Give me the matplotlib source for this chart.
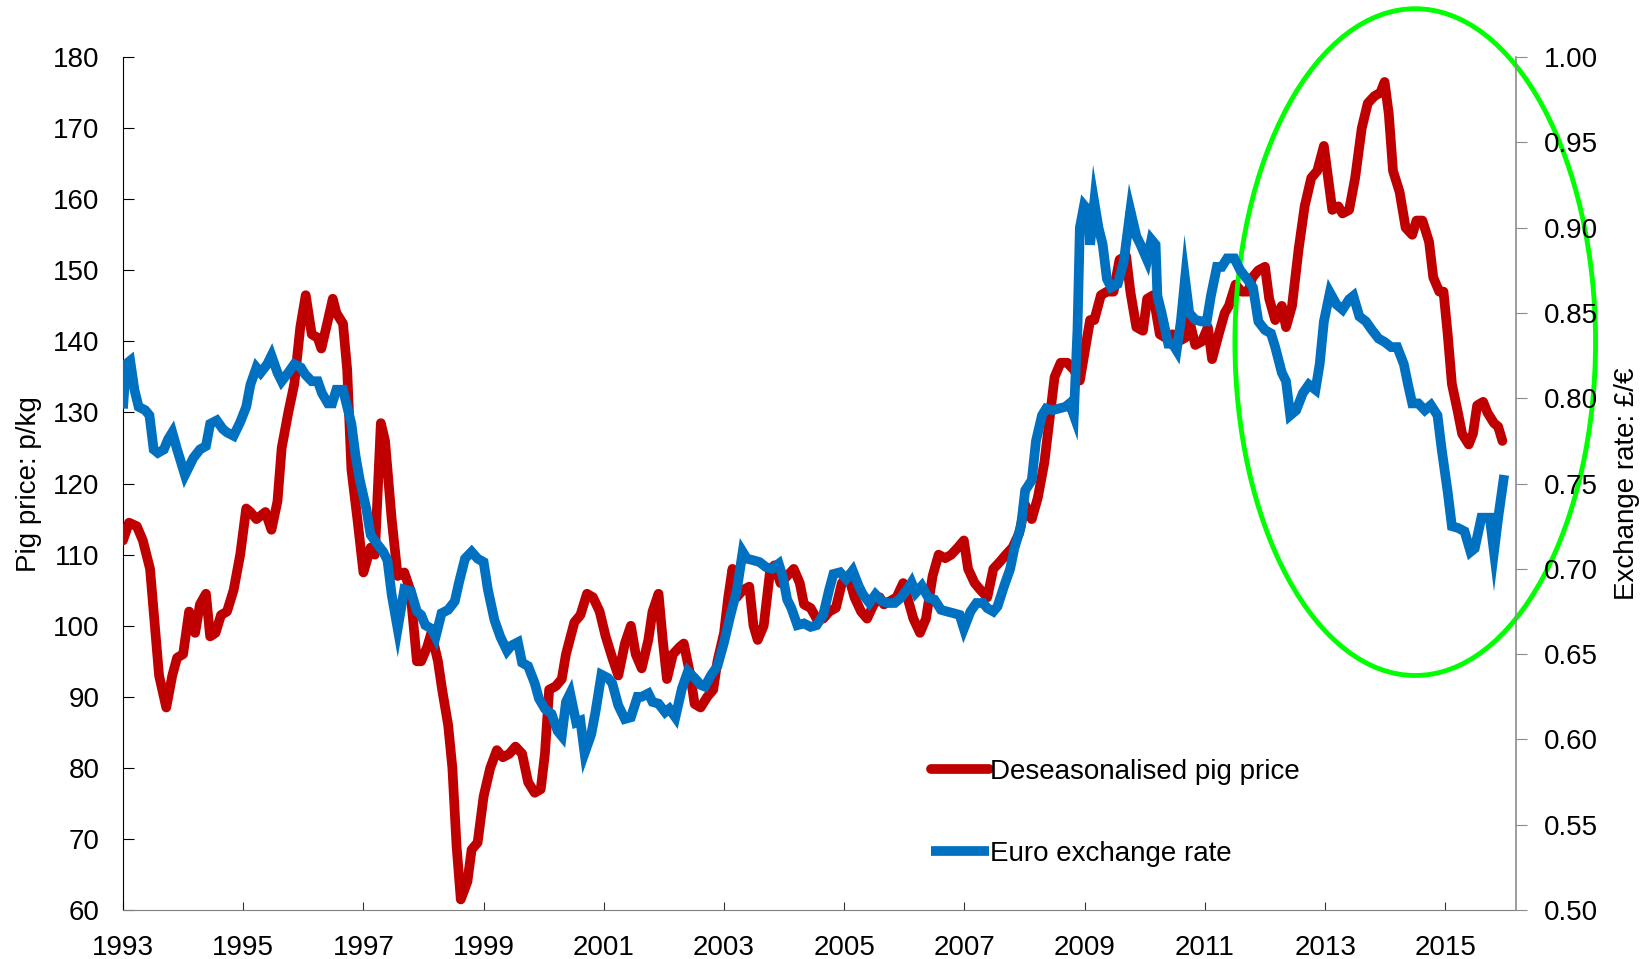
import matplotlib.pyplot as plt
from matplotlib.patches import Ellipse
from matplotlib.ticker import FormatStrFormatter

plt.rcParams['font.family'] = ['Liberation Sans', 'DejaVu Sans']

# Deseasonalised pig price (p/kg)
pig_years = [1993.0, 1993.1, 1993.23, 1993.33, 1993.45, 1993.53, 1993.6, 1993.72, 1993.82, 1993.9,
             1994.0, 1994.1, 1994.2, 1994.28, 1994.38, 1994.45, 1994.54, 1994.63, 1994.73, 1994.84,
             1994.95, 1995.05, 1995.12, 1995.22, 1995.37, 1995.47, 1995.57, 1995.64, 1995.75, 1995.85,
             1995.95, 1996.04, 1996.14, 1996.24, 1996.3, 1996.41, 1996.49, 1996.55, 1996.66, 1996.73,
             1996.8, 1996.9, 1997.0, 1997.12, 1997.19, 1997.29, 1997.36, 1997.47, 1997.57, 1997.68,
             1997.78, 1997.89, 1997.96, 1998.06, 1998.13, 1998.24, 1998.31, 1998.41, 1998.48, 1998.55,
             1998.62, 1998.73, 1998.8, 1998.9, 1999.0, 1999.11, 1999.22, 1999.32, 1999.43, 1999.53,
             1999.64, 1999.74, 1999.85, 1999.95, 2000.02, 2000.09, 2000.2, 2000.3, 2000.37, 2000.51,
             2000.61, 2000.72, 2000.82, 2000.93, 2001.03, 2001.14, 2001.24, 2001.35, 2001.45, 2001.53,
             2001.63, 2001.74, 2001.81, 2001.91, 2001.98, 2002.05, 2002.15, 2002.26, 2002.33, 2002.44,
             2002.51, 2002.61, 2002.72, 2002.82, 2002.89, 2003.0, 2003.07, 2003.14, 2003.21, 2003.31,
             2003.42, 2003.49, 2003.56, 2003.66, 2003.77, 2003.84, 2003.94, 2004.05, 2004.16, 2004.26,
             2004.33, 2004.44, 2004.54, 2004.65, 2004.75, 2004.86, 2004.96, 2005.07, 2005.17, 2005.28,
             2005.38, 2005.49, 2005.59, 2005.66, 2005.77, 2005.87, 2005.98, 2006.05, 2006.15, 2006.26,
             2006.36, 2006.47, 2006.57, 2006.68, 2006.78, 2006.89, 2006.99, 2007.06, 2007.17, 2007.27,
             2007.38, 2007.48, 2007.59, 2007.69, 2007.8, 2007.91, 2008.01, 2008.12, 2008.22, 2008.33,
             2008.43, 2008.5, 2008.6, 2008.71, 2008.82, 2008.92, 2008.99, 2009.09, 2009.16, 2009.27,
             2009.37, 2009.48, 2009.58, 2009.69, 2009.76, 2009.86, 2009.97, 2010.04, 2010.14, 2010.25,
             2010.35, 2010.46, 2010.56, 2010.67, 2010.74, 2010.84, 2010.95, 2011.05, 2011.12, 2011.23,
             2011.33, 2011.4, 2011.51, 2011.61, 2011.72, 2011.79, 2011.89, 2012.0, 2012.07, 2012.17,
             2012.28, 2012.35, 2012.45, 2012.56, 2012.66, 2012.77, 2012.87, 2012.98, 2013.05, 2013.12,
             2013.22, 2013.29, 2013.4, 2013.5, 2013.61, 2013.71, 2013.82, 2013.92, 2013.99, 2014.06,
             2014.13, 2014.24, 2014.34, 2014.45, 2014.52, 2014.62, 2014.73, 2014.8, 2014.9, 2014.97,
             2015.04, 2015.11, 2015.21, 2015.28, 2015.39, 2015.46, 2015.53, 2015.63, 2015.7, 2015.81,
             2015.88, 2015.95]
pig_price = [112, 114.5, 114, 112, 108, 100, 93, 88.5, 93, 95.5,
             96, 102, 99, 103, 104.5, 98.5, 99, 101.5, 102, 105,
             110, 116.5, 116, 115, 116, 113.5, 117.5, 125, 130, 134,
             142, 146.5, 141, 140.5, 139, 143, 146, 144, 142.5, 136,
             122, 115, 107.5, 111, 110, 128.5, 126, 115, 107, 107.5,
             105, 95, 95, 97, 99, 95, 91, 86, 80, 69,
             61.5, 64, 68.5, 69.5, 76, 80, 82.5, 81.5, 82, 83,
             82, 78, 76.5, 77, 82, 91, 91.5, 92.5, 96, 100.5,
             101.5, 104.5, 104, 102, 98.5, 95.5, 93, 97.5, 100, 96,
             94, 98, 102, 104.5, 98, 92.5, 96, 97, 97.5, 93,
             89, 88.5, 90, 91, 95, 99, 104, 108, 104, 105,
             105.5, 100, 98, 100, 108, 108.5, 106, 107, 108, 106,
             103, 102.5, 101, 101, 102, 102.5, 106, 107, 104, 102,
             101, 103, 104, 103, 103.5, 104, 106, 104, 101, 99,
             101, 107, 110, 109.5, 110, 111, 112, 108, 106, 105,
             104, 108, 109, 110, 111, 113, 117, 115, 118, 123,
             130, 135, 137, 137, 136, 134.5, 138, 143, 143, 146.5,
             147, 147, 151.5, 152, 147, 142, 141.5, 146, 146.5, 141,
             140.5, 141, 140, 140.5, 143, 139.5, 140, 142, 137.5, 141,
             144, 145, 148, 147, 147, 149, 150, 150.5, 146, 143,
             145, 142, 145, 153, 159, 163, 164, 167.5, 163, 158.5,
             159, 158, 158.5, 163, 170, 173.5, 174.5, 175, 176.5, 172,
             164, 161, 156, 155, 157, 157, 154, 149, 147, 147,
             141, 134, 130, 127, 125.5, 127, 131, 131.5, 130, 128.5,
             128, 126]

# Euro exchange rate (GBP per EUR)
fx_years = [1993.0, 1993.05, 1993.12, 1993.19, 1993.26, 1993.37, 1993.44, 1993.51, 1993.58, 1993.68,
            1993.75, 1993.82, 1993.9, 1993.96, 1994.03, 1994.1, 1994.17, 1994.28, 1994.38, 1994.45,
            1994.56, 1994.66, 1994.73, 1994.84, 1994.95, 1995.05, 1995.12, 1995.22, 1995.29, 1995.4,
            1995.47, 1995.57, 1995.64, 1995.75, 1995.85, 1995.96, 1996.03, 1996.14, 1996.24, 1996.31,
            1996.41, 1996.48, 1996.55, 1996.66, 1996.73, 1996.8, 1996.87, 1996.94, 1997.05, 1997.12,
            1997.22, 1997.33, 1997.4, 1997.47, 1997.57, 1997.68, 1997.79, 1997.89, 1997.96, 1998.03,
            1998.13, 1998.2, 1998.3, 1998.41, 1998.52, 1998.59, 1998.69, 1998.8, 1998.9, 1999.0,
            1999.07, 1999.18, 1999.28, 1999.39, 1999.46, 1999.57, 1999.64, 1999.74, 1999.85, 1999.92,
            2000.02, 2000.13, 2000.23, 2000.3, 2000.37, 2000.44, 2000.54, 2000.61, 2000.68, 2000.79,
            2000.86, 2000.96, 2001.07, 2001.14, 2001.24, 2001.35, 2001.45, 2001.56, 2001.63, 2001.74,
            2001.81, 2001.91, 2002.02, 2002.09, 2002.19, 2002.3, 2002.4, 2002.51, 2002.61, 2002.68,
            2002.79, 2002.89, 2003.0, 2003.1, 2003.21, 2003.31, 2003.38, 2003.49, 2003.59, 2003.7,
            2003.8, 2003.91, 2003.98, 2004.05, 2004.12, 2004.22, 2004.33, 2004.44, 2004.54, 2004.65,
            2004.75, 2004.82, 2004.93, 2005.03, 2005.14, 2005.24, 2005.31, 2005.42, 2005.52, 2005.63,
            2005.73, 2005.84, 2005.94, 2006.05, 2006.12, 2006.19, 2006.29, 2006.4, 2006.5, 2006.61,
            2006.71, 2006.82, 2006.92, 2006.99, 2007.1, 2007.2, 2007.31, 2007.38, 2007.48, 2007.55,
            2007.66, 2007.76, 2007.83, 2007.94, 2008.01, 2008.12, 2008.19, 2008.29, 2008.36, 2008.47,
            2008.57, 2008.68, 2008.75, 2008.82, 2008.88, 2008.92, 2008.99, 2009.06, 2009.09, 2009.16,
            2009.23, 2009.3, 2009.37, 2009.44, 2009.55, 2009.65, 2009.76, 2009.86, 2009.93, 2010.04,
            2010.11, 2010.18, 2010.21, 2010.28, 2010.39, 2010.46, 2010.53, 2010.6, 2010.67, 2010.74,
            2010.84, 2010.95, 2011.03, 2011.1, 2011.2, 2011.28, 2011.37, 2011.49, 2011.59, 2011.7,
            2011.8, 2011.89, 2012.0, 2012.1, 2012.17, 2012.28, 2012.35, 2012.42, 2012.52, 2012.63,
            2012.73, 2012.84, 2012.91, 2012.98, 2013.08, 2013.19, 2013.29, 2013.4, 2013.47, 2013.57,
            2013.68, 2013.78, 2013.89, 2013.99, 2014.1, 2014.2, 2014.31, 2014.38, 2014.45, 2014.55,
            2014.66, 2014.76, 2014.87, 2014.94, 2015.04, 2015.11, 2015.21, 2015.32, 2015.42, 2015.49,
            2015.6, 2015.67, 2015.74, 2015.81, 2015.88, 2015.98]
fx_rate = [0.794, 0.82, 0.822, 0.805, 0.795, 0.793, 0.79, 0.77, 0.768, 0.77,
           0.776, 0.78, 0.77, 0.763, 0.755, 0.76, 0.765, 0.77, 0.772, 0.785,
           0.787, 0.782, 0.78, 0.778, 0.786, 0.795, 0.808, 0.818, 0.815, 0.82,
           0.825, 0.815, 0.81, 0.815, 0.82, 0.818, 0.814, 0.81, 0.81, 0.803,
           0.797, 0.797, 0.805, 0.805, 0.795, 0.785, 0.766, 0.752, 0.735, 0.72,
           0.715, 0.71, 0.705, 0.685, 0.665, 0.688, 0.687, 0.675, 0.673, 0.667,
           0.665, 0.66, 0.674, 0.676, 0.681, 0.692, 0.706, 0.71, 0.706, 0.704,
           0.688, 0.67, 0.66, 0.652, 0.655, 0.657, 0.645, 0.643, 0.633, 0.624,
           0.618, 0.615, 0.605, 0.602, 0.622, 0.627, 0.61, 0.611, 0.592, 0.603,
           0.616, 0.638, 0.636, 0.633, 0.62, 0.612, 0.613, 0.625, 0.625, 0.627,
           0.622, 0.621, 0.616, 0.618, 0.613, 0.63, 0.64, 0.636, 0.632, 0.631,
           0.638, 0.643, 0.657, 0.672, 0.687, 0.71, 0.706, 0.705, 0.704, 0.701,
           0.7, 0.703, 0.695, 0.682, 0.677, 0.667, 0.668, 0.666, 0.667, 0.673,
           0.688, 0.697, 0.698, 0.694, 0.699, 0.69, 0.685, 0.68, 0.685, 0.681,
           0.68, 0.68, 0.683, 0.688, 0.692, 0.686, 0.69, 0.683, 0.682, 0.676,
           0.675, 0.674, 0.673, 0.665, 0.675, 0.68, 0.68, 0.677, 0.675, 0.678,
           0.69, 0.7, 0.712, 0.725, 0.746, 0.752, 0.775, 0.79, 0.794, 0.793,
           0.794, 0.795, 0.797, 0.79, 0.84, 0.9, 0.913, 0.91, 0.89, 0.915,
           0.9, 0.89, 0.87, 0.865, 0.867, 0.88, 0.91, 0.895, 0.89, 0.881,
           0.893, 0.89, 0.86, 0.85, 0.832, 0.832, 0.828, 0.845, 0.87, 0.85,
           0.846, 0.845, 0.845, 0.86, 0.877, 0.877, 0.882, 0.882, 0.875, 0.87,
           0.865, 0.845, 0.84, 0.838, 0.83, 0.815, 0.81, 0.79, 0.793, 0.803,
           0.808, 0.805, 0.82, 0.845, 0.862, 0.855, 0.852, 0.858, 0.86, 0.848,
           0.845, 0.84, 0.835, 0.833, 0.83, 0.83, 0.82, 0.808, 0.797, 0.797,
           0.793, 0.796, 0.79, 0.77, 0.745, 0.725, 0.724, 0.722, 0.71, 0.712,
           0.73, 0.73, 0.73, 0.71, 0.73, 0.755]

x_ticks = list(range(1993, 2016, 2))
left_ticks = list(range(60, 181, 10))
right_ticks = [0.50, 0.55, 0.60, 0.65, 0.70, 0.75, 0.80, 0.85, 0.90, 0.95, 1.00]

red = '#C00000'
blue = '#0070C0'
narrow = ['Liberation Sans Narrow', 'Liberation Sans', 'DejaVu Sans']

fig = plt.figure(figsize=(16.51, 9.59), dpi=100)
ax = fig.add_axes([0.0745, 0.051, 0.8435, 0.8895])
ax2 = ax.twinx()

l1, = ax.plot(pig_years, pig_price, color=red, lw=7, solid_capstyle='round',
              solid_joinstyle='round', label='Deseasonalised pig price', zorder=3)
l2, = ax2.plot(fx_years, fx_rate, color=blue, lw=7, solid_capstyle='butt',
               solid_joinstyle='miter', label='Euro exchange rate', zorder=3)

ax.set_xlim(1993, 2016.17)
ax.set_ylim(60, 180)
ax2.set_ylim(0.5, 1.0)
ax.set_xticks(x_ticks)
ax.set_yticks(left_ticks)
ax2.set_yticks(right_ticks)
ax2.yaxis.set_major_formatter(FormatStrFormatter('%.2f'))

ax.spines['top'].set_visible(False)
ax2.spines['top'].set_visible(False)
ax.spines['left'].set_color('black')
ax.spines['bottom'].set_color('#7f7f7f')
ax2.spines['right'].set_color('#8c8c8c')
ax2.spines['right'].set_linewidth(1.2)
ax.spines['right'].set_visible(False)
ax2.spines['left'].set_visible(False)
ax2.spines['bottom'].set_visible(False)

ax.tick_params(axis='x', direction='in', length=6, labelsize=20, pad=18, color='#333333')
ax.tick_params(axis='y', direction='in', length=8, labelsize=20, pad=17)
ax2.tick_params(axis='y', direction='out', length=8, labelsize=20, pad=12, color='#8c8c8c')

ax.set_ylabel('Pig price: p/kg', fontsize=20, family=narrow, labelpad=8)
ax2.set_ylabel('Exchange rate: £/€', fontsize=20, family=narrow, labelpad=12)

# Green ellipse highlighting the recent divergence
ell = Ellipse((2014.5, 139.9), width=6.0, height=93.8, fill=False, edgecolor='#00FF00',
              lw=3.5, clip_on=False, zorder=5)
ax.add_patch(ell)

ax.legend([l1, l2], ['Deseasonalised pig price', 'Euro exchange rate'], loc='upper left',
          bbox_to_anchor=(0.58, 0.177), frameon=False, fontsize=20, handlelength=2.1,
          handletextpad=0.05, labelspacing=2.0, borderpad=0, borderaxespad=0)

fig.savefig('out.png', dpi=100)
